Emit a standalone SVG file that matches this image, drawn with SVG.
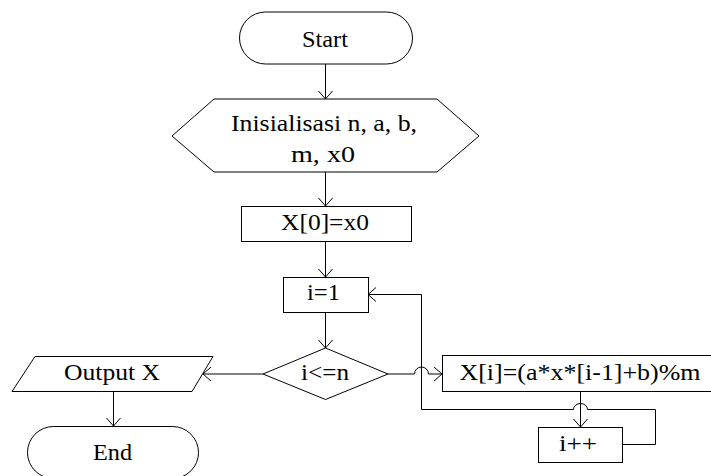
<svg xmlns="http://www.w3.org/2000/svg" width="711" height="476" viewBox="0 0 711 476">
  <style>
    .shape { fill: #ffffff; stroke: #000000; stroke-width: 1; }
    .edge { fill: none; stroke: #000000; stroke-width: 1; }
    .label { font-family: 'Liberation Serif', 'Times New Roman', serif; font-size: 22.5px; fill: #000000; text-anchor: middle; }
  </style>
  <defs>
    <marker id="arrow" viewBox="0 0 10 16" refX="9" refY="8" markerWidth="10" markerHeight="16" markerUnits="userSpaceOnUse" orient="auto">
      <path d="M1,1 L9,8 L1,15" fill="none" stroke="#000000" stroke-width="1"/>
    </marker>
  </defs>

  <rect width="711" height="476" fill="#ffffff"/>

  <!-- connectors -->
  <g id="connectors">
    <path class="edge" d="M325.5,64 V99" marker-end="url(#arrow)"/>
    <path class="edge" d="M325.5,172 V206" marker-end="url(#arrow)"/>
    <path class="edge" d="M325.5,241 V277" marker-end="url(#arrow)"/>
    <path class="edge" d="M325.5,312 V348" marker-end="url(#arrow)"/>
    <!-- condition false: to output -->
    <path class="edge" d="M263,374 H203" marker-end="url(#arrow)"/>
    <!-- condition true: to loop body, hopping over the return line -->
    <path class="edge" d="M388,374 H414.5 A7,7 0 0 1 428.5,374 H442" marker-end="url(#arrow)"/>
    <!-- loop body to increment -->
    <path class="edge" d="M580.5,391 V427" marker-end="url(#arrow)"/>
    <!-- increment back to i=1, hopping over the body line -->
    <path class="edge" d="M622,444.5 H655.5 V409.5 H587.5 A7,6 0 0 0 573.5,409.5 H421.5 V294.5 H368" marker-end="url(#arrow)"/>
    <!-- output to end -->
    <path class="edge" d="M113.5,391 V426" marker-end="url(#arrow)"/>
  </g>

  <g id="start">
    <rect class="shape" x="239.5" y="12" width="173" height="52" rx="26" ry="26"/>
    <text class="label" x="325" y="47" textLength="46" lengthAdjust="spacingAndGlyphs">Start</text>
  </g>

  <g id="init">
    <polygon class="shape" points="172,136 214,99 437,99 479,136 437,172 214,172"/>
    <text class="label" x="324" y="131" textLength="186" lengthAdjust="spacingAndGlyphs">Inisialisasi n, a, b,</text>
    <text class="label" x="323" y="162" textLength="64" lengthAdjust="spacingAndGlyphs">m, x0</text>
  </g>

  <g id="assign-x0">
    <rect class="shape" x="241.5" y="206.5" width="170" height="35"/>
    <text class="label" x="325" y="230" textLength="88" lengthAdjust="spacingAndGlyphs">X[0]=x0</text>
  </g>

  <g id="init-i">
    <rect class="shape" x="283.5" y="277.5" width="85" height="35"/>
    <text class="label" x="323.5" y="300" textLength="33" lengthAdjust="spacingAndGlyphs">i=1</text>
  </g>

  <g id="condition">
    <polygon class="shape" points="325.5,348 388,374 325.5,399.5 263,374"/>
    <text class="label" x="325" y="380" textLength="48" lengthAdjust="spacingAndGlyphs">i&lt;=n</text>
  </g>

  <g id="compute">
    <rect class="shape" x="442.5" y="355.5" width="275" height="36"/>
    <text class="label" x="580" y="380" textLength="241" lengthAdjust="spacingAndGlyphs">X[i]=(a*x*[i-1]+b)%m</text>
  </g>

  <g id="increment">
    <rect class="shape" x="538.5" y="427.5" width="84" height="35"/>
    <text class="label" x="578" y="451" textLength="38" lengthAdjust="spacingAndGlyphs">i++</text>
  </g>

  <g id="output">
    <polygon class="shape" points="35,356.5 213,356.5 192,391.5 12,391.5"/>
    <text class="label" x="112" y="380" textLength="96" lengthAdjust="spacingAndGlyphs">Output X</text>
  </g>

  <g id="end">
    <rect class="shape" x="27.5" y="426.5" width="171" height="52" rx="26" ry="26"/>
    <text class="label" x="112.5" y="460" textLength="39" lengthAdjust="spacingAndGlyphs">End</text>
  </g>
</svg>
